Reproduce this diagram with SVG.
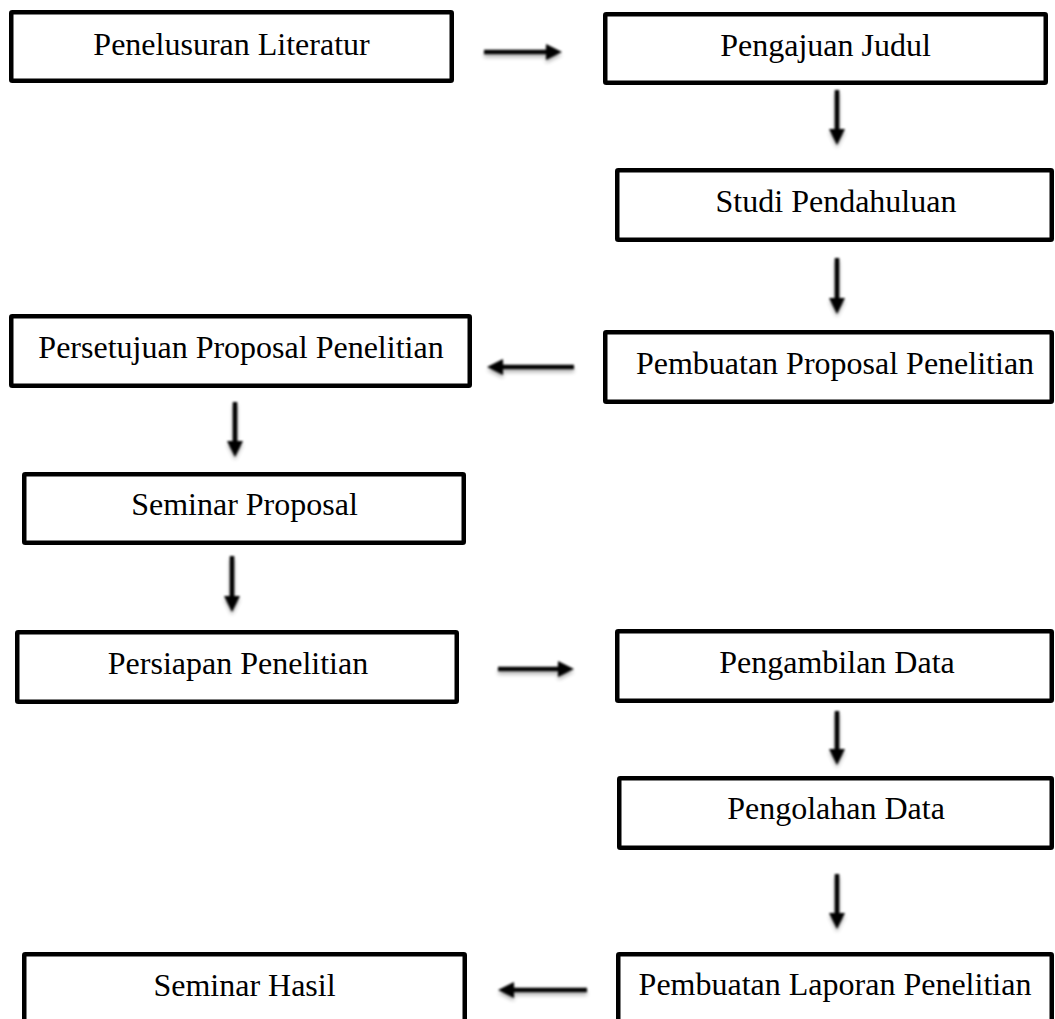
<svg xmlns="http://www.w3.org/2000/svg" width="1055" height="1019" viewBox="0 0 1055 1019">
  <style>
    .box rect { fill: #ffffff; stroke: #000000; stroke-width: 4.5; }
    .box text { font-family: "Liberation Serif", "Times New Roman", serif; font-size: 32px; fill: #000000; text-anchor: middle; }
    .conn line { stroke: #000000; stroke-width: 4.5; marker-end: url(#head); }
    .conn { filter: url(#soft); }
  </style>
  <defs>
    <marker id="head" markerUnits="userSpaceOnUse" markerWidth="18" markerHeight="18" viewBox="0 0 16 18" refX="4" refY="9" orient="auto">
      <path d="M0,1 L16,9 L0,17 Z" fill="#000000"/>
    </marker>
    <filter id="soft" x="-20%" y="-20%" width="140%" height="140%">
      <feGaussianBlur in="SourceAlpha" stdDeviation="2.2" result="b"/>
      <feOffset in="b" dy="3" result="o"/>
      <feComponentTransfer in="o" result="s"><feFuncA type="linear" slope="0.3"/></feComponentTransfer>
      <feGaussianBlur in="SourceGraphic" stdDeviation="0.8" result="g"/>
      <feMerge><feMergeNode in="s"/><feMergeNode in="g"/></feMerge>
    </filter>
  </defs>
  <rect width="1055" height="1019" fill="#ffffff"/>

  <g id="n1" class="box"><rect x="11.25" y="12.25" width="440.5" height="68.5" rx="1"/><text x="231.5" y="55">Penelusuran Literatur</text></g>
  <g id="n2" class="box"><rect x="605.25" y="14.25" width="440.5" height="68.5" rx="1"/><text x="825.5" y="56">Pengajuan Judul</text></g>
  <g id="n3" class="box"><rect x="617.25" y="170.25" width="434.5" height="69.5" rx="1"/><text x="836" y="212">Studi Pendahuluan</text></g>
  <g id="n4" class="box"><rect x="605.25" y="332.25" width="446.5" height="69.5" rx="1"/><text x="835" y="374">Pembuatan Proposal Penelitian</text></g>
  <g id="n5" class="box"><rect x="11.25" y="316.25" width="458.5" height="69.5" rx="1"/><text x="241" y="358">Persetujuan Proposal Penelitian</text></g>
  <g id="n6" class="box"><rect x="24.25" y="474.25" width="439.5" height="68.5" rx="1"/><text x="244.5" y="515">Seminar Proposal</text></g>
  <g id="n7" class="box"><rect x="17.25" y="632.25" width="439.5" height="69.5" rx="1"/><text x="238" y="674">Persiapan Penelitian</text></g>
  <g id="n8" class="box"><rect x="617.25" y="631.25" width="434.5" height="69.5" rx="1"/><text x="837" y="673">Pengambilan Data</text></g>
  <g id="n9" class="box"><rect x="619.25" y="778.25" width="432.5" height="69.5" rx="1"/><text x="836" y="819">Pengolahan Data</text></g>
  <g id="n10" class="box"><rect x="618.25" y="954.25" width="433.5" height="80" rx="1"/><text x="835" y="995">Pembuatan Laporan Penelitian</text></g>
  <g id="n11" class="box"><rect x="24.25" y="954.25" width="440.5" height="80" rx="1"/><text x="244.5" y="996">Seminar Hasil</text></g>

  <g id="connectors" class="conn">
    <line x1="484" y1="52" x2="550" y2="52"/>
    <line x1="837" y1="90" x2="837" y2="133"/>
    <line x1="837" y1="258" x2="837" y2="302"/>
    <line x1="574" y1="367" x2="499" y2="367"/>
    <line x1="235" y1="402" x2="235" y2="445"/>
    <line x1="232" y1="556" x2="232" y2="600"/>
    <line x1="498" y1="669" x2="562" y2="669"/>
    <line x1="837" y1="711" x2="837" y2="753"/>
    <line x1="837" y1="874" x2="837" y2="917"/>
    <line x1="587" y1="990" x2="510" y2="990"/>
  </g>
</svg>
